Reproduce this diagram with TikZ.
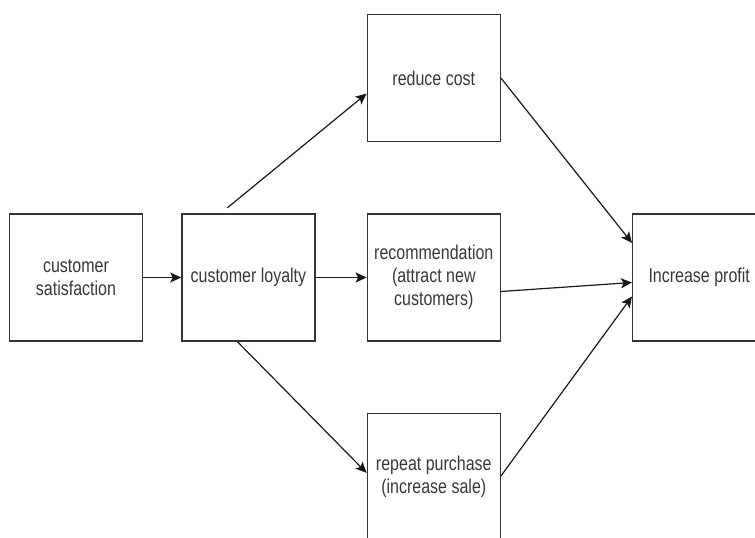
\documentclass[tikz,border=0pt]{standalone}
\usepackage{fontspec}
\setmainfont{Liberation Sans}[FakeStretch=0.8]
\usepackage{xcolor}
\definecolor{boxline}{gray}{.2}
\definecolor{boxtext}{gray}{.22}
\definecolor{linkline}{gray}{.1}
\usetikzlibrary{positioning}
\usetikzlibrary{arrows.meta}
\newcommand{\widthbox}{133pt}
\newcommand{\heightbox}{127pt}
\tikzset{
    common/.style={draw=boxline, line width=1.4pt, rectangle, text=boxtext, align=center,
        font=\fontsize{20}{23}\selectfont, inner sep=2pt},
    stepbox/.style={common, minimum width=\widthbox, minimum height=\heightbox},
    link/.style={draw=linkline, line width=1.2pt, -{Stealth[length=11pt, width=10pt, inset=2.5pt]}}
}

\begin{document}
\begin{tikzpicture}[x=1pt, y=1pt]
    \useasboundingbox (0,0) rectangle (755,538);
    \clip (0,0) rectangle (755,538);

    \node[stepbox] (satisfaction) at (76,260.5) {customer\\satisfaction};
    \node[stepbox, right=38pt of satisfaction] (loyalty) {customer loyalty};
    \node[stepbox, right=51pt of loyalty] (recommend) {recommendation\\(attract new\\customers)};
    \node[stepbox, above=71pt of recommend] (reduce) {reduce cost};
    \node[stepbox, below=71pt of recommend] (repeat) {repeat purchase\\(increase sale)};
    \node[stepbox, right=131pt of recommend] (profit) {Increase profit};

    \draw[link] (satisfaction) -- (loyalty);
    \draw[link] (loyalty) -- (recommend);
    \draw[link] ([xshift=-21pt, yshift=5.5pt]loyalty.north) -- ([yshift=-15.5pt]reduce.west);
    \draw[link] ([xshift=-11pt]loyalty.south) -- ([yshift=4pt]repeat.west);
    \draw[link] (reduce.east) -- ([yshift=34.5pt]profit.west);
    \draw[link] ([yshift=-14pt]recommend.east) -- ([yshift=-5pt]profit.west);
    \draw[link] ([yshift=1pt]repeat.east) -- ([yshift=-19pt]profit.west);
\end{tikzpicture}
\end{document}
